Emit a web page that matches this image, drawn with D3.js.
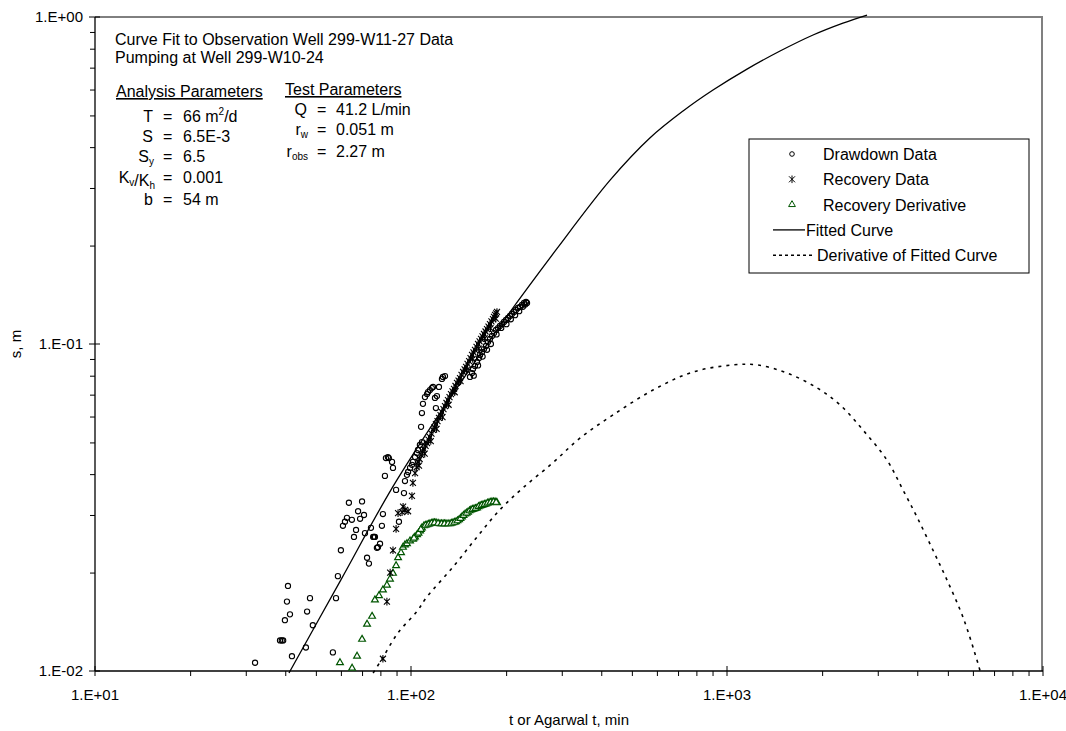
<!DOCTYPE html>
<html>
<head>
<meta charset="utf-8">
<script src="https://cdn.jsdelivr.net/npm/d3@7"></script>
<style>
  body { margin: 0; background: #fff; }
  svg { display: block; font-family: Arial, "Liberation Sans", sans-serif; }
</style>
</head>
<body>
<div id="container"></div>
<script>
/* DATA (t in min, s in m) */
const drawdown = [
  [32.1,0.0106],[42.0,0.0111],[38.5,0.0124],[39.0,0.0124],[39.4,0.0124],[39.9,0.0143],[41.4,0.0149],
  [40.5,0.0163],[40.8,0.0182],[46.9,0.0152],[47.9,0.0167],[48.9,0.0138],[46.5,0.0118],[56.6,0.0114],
  [57.9,0.0167],[58.7,0.0195],[60.0,0.0234],[60.9,0.0278],[61.8,0.0286],[62.7,0.0294],[65.0,0.0290],
  [63.6,0.0327],[66.0,0.0257],[67.0,0.0270],[68.0,0.0308],[69.0,0.0292],[70.0,0.0330],[71.0,0.0300],
  [71.5,0.0264],[74.7,0.0274],[72.6,0.0222],[73.6,0.0213],[75.9,0.0257],[76.4,0.0257],[76.9,0.0257],
  [78.0,0.0238],[78.6,0.0239],[79.8,0.0245],[81.5,0.0302],[80.9,0.0278],[89.7,0.0358],[91.6,0.0286],
  [95.0,0.0350],[95.7,0.0381],[83.3,0.0448],[84.5,0.0451],[85.1,0.0448],[87.1,0.0436],[87.7,0.0418],
  [82.7,0.0395],[97.1,0.0398],[97.9,0.0406],[99.3,0.0418],[100.7,0.0427],[101.4,0.0436],[103.0,0.0451],
  [104.4,0.0464],[105.2,0.0474],[106.7,0.0491],[108.3,0.0501],[107.6,0.0558],[108.3,0.0615],[109.1,0.0656],
  [110.7,0.0688],[112.4,0.0703],[113.2,0.0713],[114.8,0.0723],[116.4,0.0733],[117.4,0.0739],[119.1,0.0684],
  [119.9,0.0637],[120.8,0.0693],[122.6,0.0739],[125.3,0.0782],[126.2,0.0793],[128.1,0.0798],
  // late drawdown band
  [153.7,0.0793],[156.0,0.0815],[157.1,0.0839],[159.4,0.0856],[161.8,0.0881],[164.2,0.0906],[165.4,0.0926],
  [167.8,0.0945],[170.2,0.0965],[172.7,0.0986],[175.2,0.1014],[177.8,0.1036],[180.4,0.1058],[183.1,0.1080],
  [185.8,0.1104],[188.5,0.1119],[191.2,0.1135],[194.1,0.1151],[196.9,0.1168],[199.8,0.1184],[202.8,0.1201],
  [205.7,0.1218],[208.7,0.1235],[211.8,0.1253],[214.9,0.1271],[218.1,0.1289],[221.3,0.1298],[224.5,0.1316],
  [227.8,0.1335],[231.2,0.1344],[232.9,0.1335],
  [158.0,0.0800],[163.0,0.0860],[168.5,0.0915],[174.0,0.0960],[179.0,0.1000],[186.5,0.1070],[193.0,0.1120],
  [200.5,0.1150],[207.0,0.1190],[213.5,0.1225],[220.0,0.1260],[226.0,0.1300],[230.0,0.1320]
]

const recovery = [
  [81.5,0.0109],[83.9,0.0163],[85.9,0.0200],[87.7,0.0234],[89.7,0.0272],[91.0,0.0304],[93.7,0.0306],
  [95.7,0.0311],[97.9,0.0308],[94.4,0.0318],[100.7,0.0343],[101.4,0.0376],
  [103.0,0.0403],[105.2,0.0436],[107.6,0.0458],[109.9,0.0477],[112.4,0.0498],[114.8,0.0519],[117.4,0.0546],
  [119.9,0.0569],[122.6,0.0594],[125.3,0.0619],[128.1,0.0646],[130.9,0.0674],[133.8,0.0703],[136.8,0.0729],
  [139.8,0.0760],[142.9,0.0787],[146.2,0.0821],[149.4,0.0851],[152.7,0.0887],[156.0,0.0926],[159.4,0.0959],
  [163.0,0.1000],[166.6,0.1036],[170.2,0.1073],[174.0,0.1111],[177.8,0.1151],[181.7,0.1192],[184.5,0.1227],
  [187.1,0.1253],
  [104.2,0.0420],[106.5,0.0445],[108.8,0.0470],[111.2,0.0488],[113.6,0.0510],[116.1,0.0532],[118.6,0.0556],
  [121.3,0.0581],[124.0,0.0606],[126.7,0.0632],[129.5,0.0660],[132.4,0.0688],[135.3,0.0716],[138.3,0.0744],
  [141.4,0.0773],[144.5,0.0804],[147.8,0.0836],[151.0,0.0869],[154.3,0.0906],[157.7,0.0942],[161.2,0.0980],
  [164.8,0.1018],[168.4,0.1055],[172.1,0.1092],[175.9,0.1131],[179.7,0.1172],[183.1,0.1210],[186.0,0.1240],
  [106.0,0.0425],[110.5,0.0462],[115.5,0.0505],[120.5,0.0550],[125.8,0.0598],[131.5,0.0652],[137.5,0.0712],
  [143.5,0.0770],[150.0,0.0832],[156.8,0.0900],[163.8,0.0968],[171.0,0.1040],[178.5,0.1118],[185.5,0.1195]
]

const recoveryDeriv = [
  [59.6,0.0106],[65.1,0.0102],[67.5,0.0111],[70.0,0.0125],[72.6,0.0139],[75.3,0.0147],[76.9,0.0165],
  [79.2,0.0170],[81.5,0.0177],[83.9,0.0183],[85.8,0.0191],[87.7,0.0199],[89.7,0.0210],[91.0,0.0222],
  [93.0,0.0230],[94.3,0.0239],[95.7,0.0243],[97.1,0.0245],[99.3,0.0250],[101.5,0.0253],[103.0,0.0257],
  [104.5,0.0261],[106.8,0.0268],[108.3,0.0274],[109.9,0.0278],[112.4,0.0280],[114.8,0.0282],[117.4,0.0284],
  [120.0,0.0284],[123.5,0.0282],[126.3,0.0282],[129.0,0.0282],[132.9,0.0282],[135.8,0.0284],[138.8,0.0286],
  [141.9,0.0290],[145.0,0.0296],[148.3,0.0302],[151.5,0.0306],[154.9,0.0311],[158.3,0.0313],[161.8,0.0315],
  [165.4,0.0320],[169.0,0.0322],[172.7,0.0324],[176.6,0.0327],[180.4,0.0329],[184.5,0.0329],[187.2,0.0327],
  [102.2,0.0255],[105.6,0.0264],[107.5,0.0271],[111.1,0.0279],[113.6,0.0281],[116.1,0.0283],[118.7,0.0284],
  [121.8,0.0283],[124.9,0.0282],[127.6,0.0282],[131.0,0.0282],[134.3,0.0283],[137.3,0.0285],[140.3,0.0288],
  [143.4,0.0293],[146.6,0.0299],[149.9,0.0304],[153.2,0.0309],[156.6,0.0312],[160.0,0.0314],[163.6,0.0318],
  [167.2,0.0321],[170.8,0.0323],[174.6,0.0326],[178.5,0.0328],[182.4,0.0329],[186.0,0.0328]
]

const fittedT = [41.1, 60.0, 90.3, 177.8, 290, 426.6, 570, 726, 903, 1157, 1472, 1872, 2328, 2774]
const fittedS = [0.00986, 0.0190, 0.0384, 0.1028, 0.196, 0.317, 0.4266, 0.516, 0.598, 0.693, 0.787, 0.881, 0.958, 1.014]

const derivT = [75.9, 81.5, 91.0, 104.4, 112, 135.8, 161.8, 191, 226, 281, 343, 436, 583, 780, 1045, 1245,
  1549, 1928, 2280, 2692, 3206, 3604, 3990, 4487, 4966, 5583, 6180, 6324]
const derivS = [0.00986, 0.0110, 0.0131, 0.0152, 0.0168, 0.0208, 0.0257, 0.0311, 0.0363, 0.0433, 0.0516, 0.0607,
  0.0723, 0.0821, 0.0863, 0.0863, 0.0815, 0.0734, 0.0651, 0.0546, 0.0442, 0.0358, 0.0296, 0.0234, 0.0190,
  0.0146, 0.0108, 0.0100]

const xMajor = [10, 100, 1000, 10000]
const xTickLabels = ["1.E+01", "1.E+02", "1.E+03", "1.E+04"]
const yMajor = [0.01, 0.1, 1]
const yTickLabels = ["1.E-02", "1.E-01", "1.E+00"]

const legendItems = ["Drawdown Data", "Recovery Data", "Recovery Derivative", "Fitted Curve", "Derivative of Fitted Curve"]

/* CONSTANTS */
const width = 1066,
  height = 731,
  margin = { top: 17, bottom: 60, left: 95, right: 23 }
const green = "#005500"

const svg = d3.select("#container")
  .append("svg")
  .attr("width", width)
  .attr("height", height)

const xScale = d3.scaleLog()
  .domain([10, 10000])
  .range([margin.left, width - margin.right])

const yScale = d3.scaleLog()
  .domain([0.01, 1])
  .range([height - margin.bottom, margin.top])

const x0 = margin.left, x1 = width - margin.right
const y0 = height - margin.bottom, y1 = margin.top

// minor tick values (2..9 per decade)
const xMinor = []
xMajor.slice(0, -1).forEach(d => { for (let k = 2; k <= 9; k++) xMinor.push(d * k) })
const yMinor = []
yMajor.slice(0, -1).forEach(d => { for (let k = 2; k <= 9; k++) yMinor.push(d * k) })

// plot frame: top black, right gray
svg.append("line").attr("x1", x0).attr("x2", x1).attr("y1", y1).attr("y2", y1)
  .attr("stroke", "black").attr("stroke-width", 1)
svg.append("line").attr("x1", x1 - 1).attr("x2", x1 - 1).attr("y1", y1).attr("y2", y0)
  .attr("stroke", "#808080").attr("stroke-width", 2)

// x axis
svg.append("g")
  .attr("transform", `translate(0,${y0})`)
  .call(d3.axisBottom(xScale).tickValues(xMinor).tickSize(5).tickFormat(""))
  .call(g => g.select(".domain").remove())
  .selectAll("line").attr("stroke", "black")

const xMaj = svg.append("g")
xMaj.selectAll("line").data(xMajor).join("line")
  .attr("x1", d => xScale(d)).attr("x2", d => xScale(d))
  .attr("y1", y0 - 5).attr("y2", y0 + 5).attr("stroke", "black")
xMaj.selectAll("text").data(xMajor).join("text")
  .attr("x", d => xScale(d)).attr("y", y0 + 29)
  .attr("text-anchor", "middle").attr("font-size", "15px")
  .text((d, i) => xTickLabels[i])
svg.append("line").attr("x1", x0).attr("x2", x1).attr("y1", y0).attr("y2", y0)
  .attr("stroke", "black").attr("stroke-width", 1.3)

// y axis
svg.append("g")
  .attr("transform", `translate(${x0},0)`)
  .call(d3.axisLeft(yScale).tickValues(yMinor).tickSize(5).tickFormat(""))
  .call(g => g.select(".domain").remove())
  .selectAll("line").attr("stroke", "black")

const yMaj = svg.append("g")
yMaj.selectAll("line").data(yMajor).join("line")
  .attr("x1", x0 - 6).attr("x2", x0 + 5)
  .attr("y1", d => yScale(d)).attr("y2", d => yScale(d)).attr("stroke", "black")
yMaj.selectAll("text").data(yMajor).join("text")
  .attr("x", x0 - 12).attr("y", d => yScale(d) + 5)
  .attr("text-anchor", "end").attr("font-size", "15px")
  .text((d, i) => yTickLabels[i])
svg.append("line").attr("x1", x0).attr("x2", x0).attr("y1", y1).attr("y2", y0)
  .attr("stroke", "black").attr("stroke-width", 1.3)

// axis titles
svg.append("text")
  .attr("x", (x0 + x1) / 2).attr("y", height - 6)
  .attr("text-anchor", "middle").attr("font-size", "15px")
  .text("t or Agarwal t, min")
svg.append("text")
  .attr("transform", `translate(21,${(y0 + y1) / 2}) rotate(-90)`)
  .attr("text-anchor", "middle").attr("font-size", "15px")
  .text("s, m")

// curves
const line = d3.line()
  .x(d => xScale(d[0]))
  .y(d => yScale(d[1]))
  .curve(d3.curveCatmullRom.alpha(0.5))

svg.append("path")
  .datum(fittedT.map((t, i) => [t, fittedS[i]]))
  .attr("d", line)
  .attr("fill", "none").attr("stroke", "black").attr("stroke-width", 1.3)

svg.append("path")
  .datum(derivT.map((t, i) => [t, derivS[i]]))
  .attr("d", line)
  .attr("fill", "none").attr("stroke", "black").attr("stroke-width", 1.6)
  .attr("stroke-dasharray", "3,5")

// markers
const starPath = "M-3,-3L3,3M-3,3L3,-3M0,-3.8L0,3.8"
const triPath = d3.symbol(d3.symbolTriangle, 20)()

svg.append("g").selectAll("path").data(recoveryDeriv).join("path")
  .attr("transform", d => `translate(${xScale(d[0])},${yScale(d[1])})`)
  .attr("d", triPath)
  .attr("fill", "white").attr("stroke", green).attr("stroke-width", 1.2)

svg.append("g").selectAll("path").data(recovery).join("path")
  .attr("transform", d => `translate(${xScale(d[0])},${yScale(d[1])})`)
  .attr("d", starPath)
  .attr("fill", "none").attr("stroke", "black").attr("stroke-width", 1.1)

svg.append("g").selectAll("circle").data(drawdown).join("circle")
  .attr("cx", d => xScale(d[0])).attr("cy", d => yScale(d[1]))
  .attr("r", 2.6)
  .attr("fill", "none").attr("stroke", "black").attr("stroke-width", 1.1)

// annotation text block
const note = svg.append("g").attr("font-size", "16px").attr("fill", "black")
note.append("text").attr("x", 115).attr("y", 45).text("Curve Fit to Observation Well 299-W11-27 Data")
note.append("text").attr("x", 115).attr("y", 63).text("Pumping at Well 299-W10-24")
note.append("text").attr("x", 116).attr("y", 97).attr("text-decoration", "underline").text("Analysis Parameters")
note.append("text").attr("x", 285).attr("y", 95).attr("text-decoration", "underline").text("Test Parameters")

function paramRow(xEnd, xEq, xVal, y, label, sub, value, sup) {
  const t = note.append("text").attr("x", xEnd).attr("y", y).attr("text-anchor", "end")
  label.forEach((part, i) => {
    t.append("tspan").text(part)
    if (sub[i]) {
      t.append("tspan").attr("font-size", "10px").attr("dy", 3).text(sub[i])
      t.append("tspan").attr("dy", -3).text("")
    }
  })
  note.append("text").attr("x", xEq).attr("y", y).text("=")
  const v = note.append("text").attr("x", xVal).attr("y", y)
  if (sup) {
    v.append("tspan").text(value[0])
    v.append("tspan").attr("font-size", "10px").attr("dy", -7).text(sup)
    v.append("tspan").attr("dy", 7).text(value[1])
  } else {
    v.text(value)
  }
}

paramRow(153, 163, 183, 122, ["T"], [], ["66 m", "/d"], "2")
paramRow(153, 163, 183, 142, ["S"], [], "6.5E-3")
paramRow(154, 163, 183, 162, ["S"], ["y"], "6.5")
paramRow(155, 163, 183, 183, ["K", "/K"], ["v", "h"], "0.001")
paramRow(153, 163, 183, 205, ["b"], [], "54 m")

paramRow(307, 317, 336, 115, ["Q"], [], "41.2 L/min")
paramRow(308, 317, 336, 135, ["r"], ["w"], "0.051 m")
paramRow(308, 317, 336, 157, ["r"], ["obs"], "2.27 m")

// legend
const lg = svg.append("g")
lg.append("rect")
  .attr("x", 749).attr("y", 139).attr("width", 280).attr("height", 134)
  .attr("fill", "white").attr("stroke", "black").attr("stroke-width", 1)

const rowY = i => 154 + i * 25.3
lg.selectAll("text").data(legendItems).join("text")
  .attr("x", (d, i) => i === 3 ? 806 : (i === 4 ? 817 : 823))
  .attr("y", (d, i) => rowY(i) + 6)
  .attr("font-size", "16px")
  .text(d => d)

lg.append("circle").attr("cx", 792).attr("cy", rowY(0)).attr("r", 2.3)
  .attr("fill", "none").attr("stroke", "black")
lg.append("path").attr("transform", `translate(792,${rowY(1)})`).attr("d", starPath)
  .attr("fill", "none").attr("stroke", "black")
lg.append("path").attr("transform", `translate(792,${rowY(2)})`).attr("d", triPath)
  .attr("fill", "white").attr("stroke", green)
lg.append("line").attr("x1", 773).attr("x2", 805).attr("y1", rowY(3)).attr("y2", rowY(3))
  .attr("stroke", "black").attr("stroke-width", 1.3)
lg.append("line").attr("x1", 773).attr("x2", 815).attr("y1", rowY(4)).attr("y2", rowY(4))
  .attr("stroke", "black").attr("stroke-width", 1.6).attr("stroke-dasharray", "3,3")
</script>
</body>
</html>
